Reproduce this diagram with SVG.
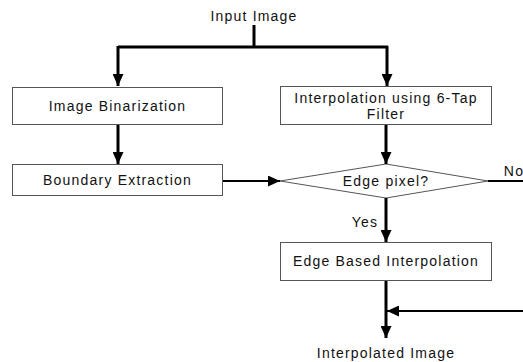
<svg xmlns="http://www.w3.org/2000/svg" width="523" height="362" viewBox="0 0 523 362">
<defs>
<marker id="ah" markerUnits="userSpaceOnUse" markerWidth="12" markerHeight="11" refX="12" refY="5.5" orient="auto" viewBox="0 0 12 11">
<path d="M0,0 L12,5.5 L0,11 z" fill="#000"/>
</marker>
<style>
.box{fill:#fff;stroke:#555;stroke-width:1}
.t{font-family:"Liberation Sans",Arial,sans-serif;font-size:14px;letter-spacing:1.2px;fill:#111;text-anchor:middle}
.w{fill:none;stroke:#000;stroke-width:3}
.m{fill:none;stroke:#000;stroke-width:2}
</style>
</defs>
<rect width="523" height="362" fill="#fff"/>
<g id="input">
<text class="t" x="254" y="21">Input Image</text>
</g>
<g id="binarization">
<rect class="box" x="12.5" y="87.5" width="210" height="37"/>
<text class="t" x="117.5" y="111">Image Binarization</text>
</g>
<g id="sixtap">
<rect class="box" x="280.5" y="86.5" width="211" height="38"/>
<text class="t" x="386" y="103">Interpolation using 6-Tap</text>
<text class="t" x="386" y="119">Filter</text>
</g>
<g id="boundary">
<rect class="box" x="12.5" y="164.5" width="210" height="31"/>
<text class="t" x="117.5" y="185">Boundary Extraction</text>
</g>
<g id="decision">
<polygon class="box" points="386,164 488,181 386,198 280,181"/>
<text class="t" x="386" y="186">Edge pixel?</text>
</g>
<g id="edgeinterp">
<rect class="box" x="280.5" y="242.5" width="211" height="38"/>
<text class="t" x="386" y="266">Edge Based Interpolation</text>
</g>
<g id="output">
<text class="t" x="386" y="358">Interpolated Image</text>
</g>
<g id="connectors">
<path class="w" d="M254,25 V47"/>
<path class="w" d="M118,47 H388"/>
<path class="w" d="M118,46 V86" marker-end="url(#ah)"/>
<path class="w" d="M387,46 V86" marker-end="url(#ah)"/>
<path class="w" d="M118,125 V164" marker-end="url(#ah)"/>
<path class="w" d="M386,125 V164" marker-end="url(#ah)"/>
<path class="m" d="M223,181 H280" marker-end="url(#ah)"/>
<path class="m" d="M488,181 H523"/>
<text class="t" x="514" y="176">No</text>
<path class="w" d="M386,198 V242" marker-end="url(#ah)"/>
<text class="t" x="365" y="227">Yes</text>
<path class="w" d="M386,281 V338" marker-end="url(#ah)"/>
<path class="m" d="M523,311 H387" marker-end="url(#ah)"/>
</g>
</svg>
